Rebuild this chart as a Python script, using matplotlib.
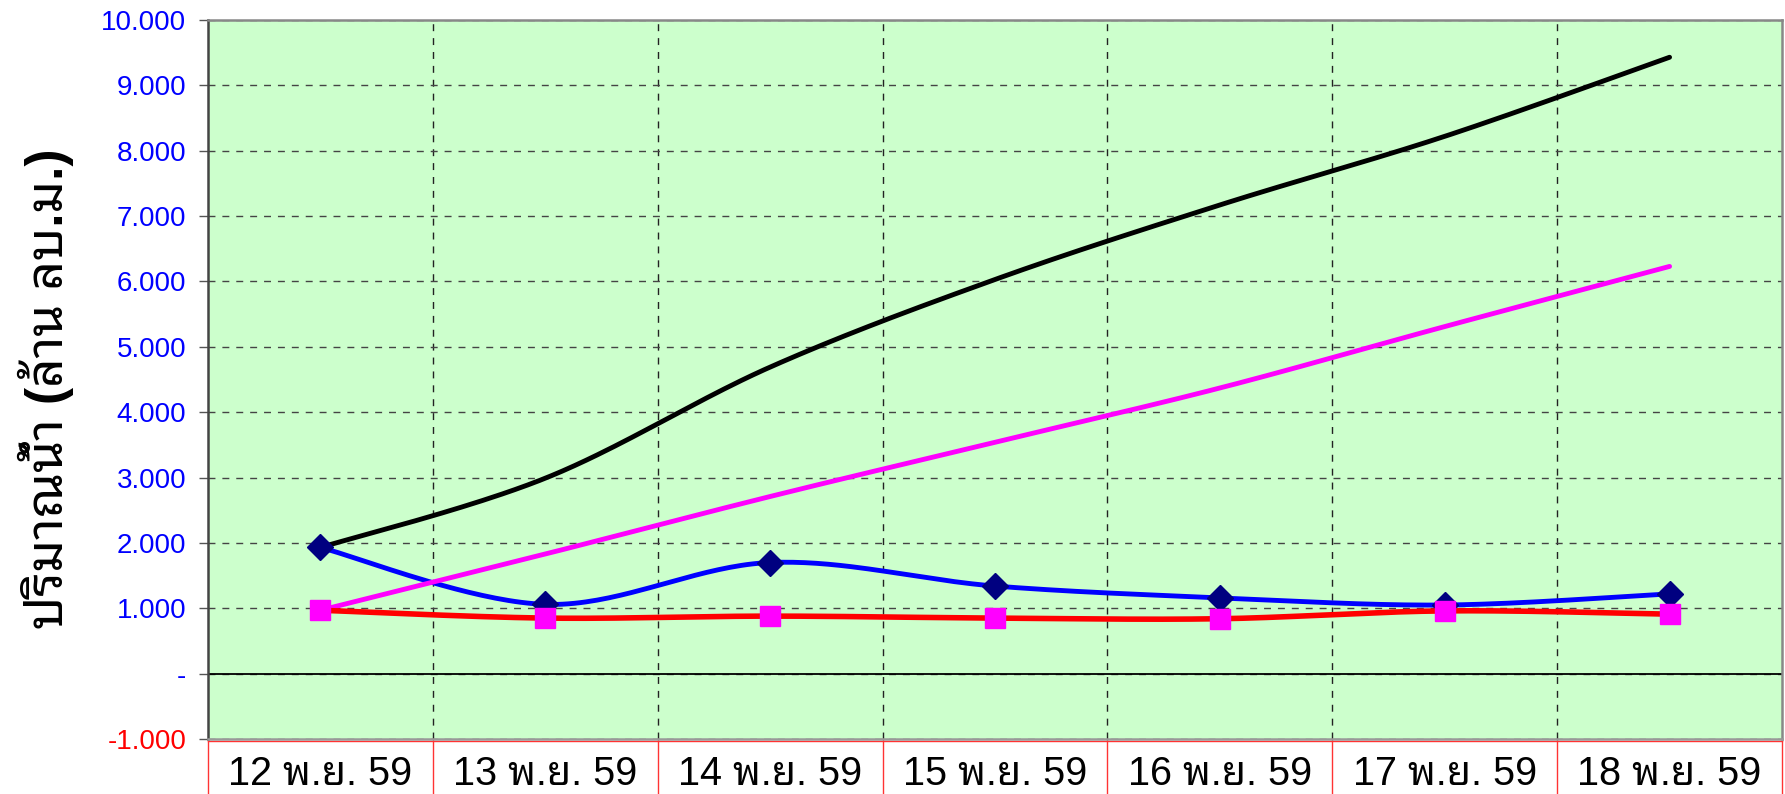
import numpy as np
import matplotlib
matplotlib.use("Agg")
import matplotlib.pyplot as plt
from matplotlib import font_manager
from matplotlib.ticker import FixedLocator, FuncFormatter

# data (million m3)
dates = ["12 พ.ย. 59", "13 พ.ย. 59", "14 พ.ย. 59", "15 พ.ย. 59",
         "16 พ.ย. 59", "17 พ.ย. 59", "18 พ.ย. 59"]
daily_blue = [1.93, 1.06, 1.70, 1.34, 1.16, 1.05, 1.22]
daily_red = [0.97, 0.85, 0.88, 0.85, 0.84, 0.96, 0.91]
accum_black = [1.93, 2.99, 4.69, 6.03, 7.17, 8.22, 9.43]
accum_magenta = [0.97, 1.83, 2.71, 3.54, 4.37, 5.31, 6.23]
yticks = [-1, 0, 1, 2, 3, 4, 5, 6, 7, 8, 9, 10]

C_BG = "#CCFFCC"
C_NAVY = "#000080"
C_MAG = "#FF00FF"


def pick_thai():
    for name in ["Noto Sans Thai Looped", "Sarabun", "Niramit", "Noto Sans Thai", "Trirong"]:
        try:
            font_manager.findfont(name, fallback_to_default=False)
            return name
        except Exception:
            continue
    return "DejaVu Sans"


THAI = pick_thai()
FAM = ["Liberation Sans", THAI, "DejaVu Sans"]
plt.rcParams["font.family"] = FAM


def smooth(ys, n=40):
    # excel-like smoothed line: bezier through the points
    xs = np.arange(len(ys), dtype=float)
    ys = np.asarray(ys, dtype=float)
    px = np.concatenate([[xs[0]], xs, [xs[-1]]])
    py = np.concatenate([[ys[0]], ys, [ys[-1]]])
    t = np.linspace(0, 1, n)[:, None]
    outx, outy = [], []
    for i in range(1, len(px) - 2):
        p0 = np.array([px[i], py[i]])
        p3 = np.array([px[i + 1], py[i + 1]])
        c1 = p0 + (p3 - np.array([px[i - 1], py[i - 1]])) / 6.0
        c2 = p3 - (np.array([px[i + 2], py[i + 2]]) - p0) / 6.0
        b = (1 - t) ** 3 * p0 + 3 * (1 - t) ** 2 * t * c1 + 3 * (1 - t) * t ** 2 * c2 + t ** 3 * p3
        outx.append(b[:, 0])
        outy.append(b[:, 1])
    return np.concatenate(outx), np.concatenate(outy)


def main():
    x = np.arange(len(dates))
    fig = plt.figure(figsize=(17.85, 7.94), dpi=100)
    ax = fig.add_axes([208 / 1785, 55 / 794, 1574 / 1785, 719 / 794])
    ax.set_facecolor(C_BG)

    sx, sy = smooth(accum_black)
    ax.plot(sx, sy, color="black", lw=3.5, solid_capstyle="round", zorder=3)
    sx, sy = smooth(daily_blue)
    ax.plot(sx, sy, color="#0000FF", lw=3.5, zorder=4)
    sx, sy = smooth(accum_magenta)
    ax.plot(sx, sy, color=C_MAG, lw=3.5, solid_capstyle="round", zorder=4.5)
    ax.plot(x, daily_blue, ls="none", marker="D", ms=13, color=C_NAVY, zorder=5)
    sx, sy = smooth(daily_red)
    ax.plot(sx, sy, color="#FF0000", lw=4, zorder=6)
    ax.plot(x, daily_red, ls="none", marker="s", ms=15, color=C_MAG, zorder=7)

    ax.axhline(0, color="black", lw=1.3, zorder=2)

    ax.set_xlim(-0.5, len(dates) - 0.5)
    ax.set_ylim(-1, 10)
    ax.yaxis.set_major_locator(FixedLocator(yticks))
    ax.yaxis.set_major_formatter(FuncFormatter(lambda v, p: "-" if v == 0 else f"{v:.3f}"))
    ax.tick_params(axis="y", direction="out", length=6.5, width=1, color="#555555",
                   pad=9, labelsize=20)
    for t, v in zip(ax.get_yticklabels(), yticks):
        t.set_color("red" if v < 0 else "#0000FF")

    ax.set_xticks(x)
    ax.set_xticklabels(dates, fontsize=28.5, va="baseline")
    ax.tick_params(axis="x", length=0, pad=33)
    ax.set_xticks(np.arange(len(dates) - 1) + 0.5, minor=True)
    ax.tick_params(axis="x", which="minor", length=0)

    ax.grid(axis="y", which="major", color="#444444", ls=(0, (5, 5)), lw=1)
    ax.grid(axis="x", which="minor", color="#222222", ls=(0, (5, 5)), lw=1)
    ax.set_axisbelow(True)

    ax.spines["top"].set_color("#888888")
    ax.spines["right"].set_color("#888888")
    ax.spines["left"].set_color("#444444")
    ax.spines["bottom"].set_color("#999999")
    for s in ax.spines.values():
        s.set_linewidth(1.8)

    # red frame of the category boxes below the plot
    trans = ax.get_xaxis_transform()
    for b in np.arange(len(dates) + 1) - 0.5:
        ax.plot([b, b], [0, -0.08], color="#FF3333", lw=1, transform=trans, clip_on=False)
    ax.plot([-0.5, len(dates) - 0.5], [-0.003, -0.003], color="#FF3333", lw=1,
            transform=trans, clip_on=False)

    fig.text(46 / 1785, 0.511, "ปริมาณน้ำ (ล้าน ลบ.ม.)", rotation=90, ha="center",
             va="center", fontsize=37, fontweight="bold", family=FAM)

    fig.savefig("out.png", dpi=100, facecolor="white")


if __name__ == "__main__":
    main()
